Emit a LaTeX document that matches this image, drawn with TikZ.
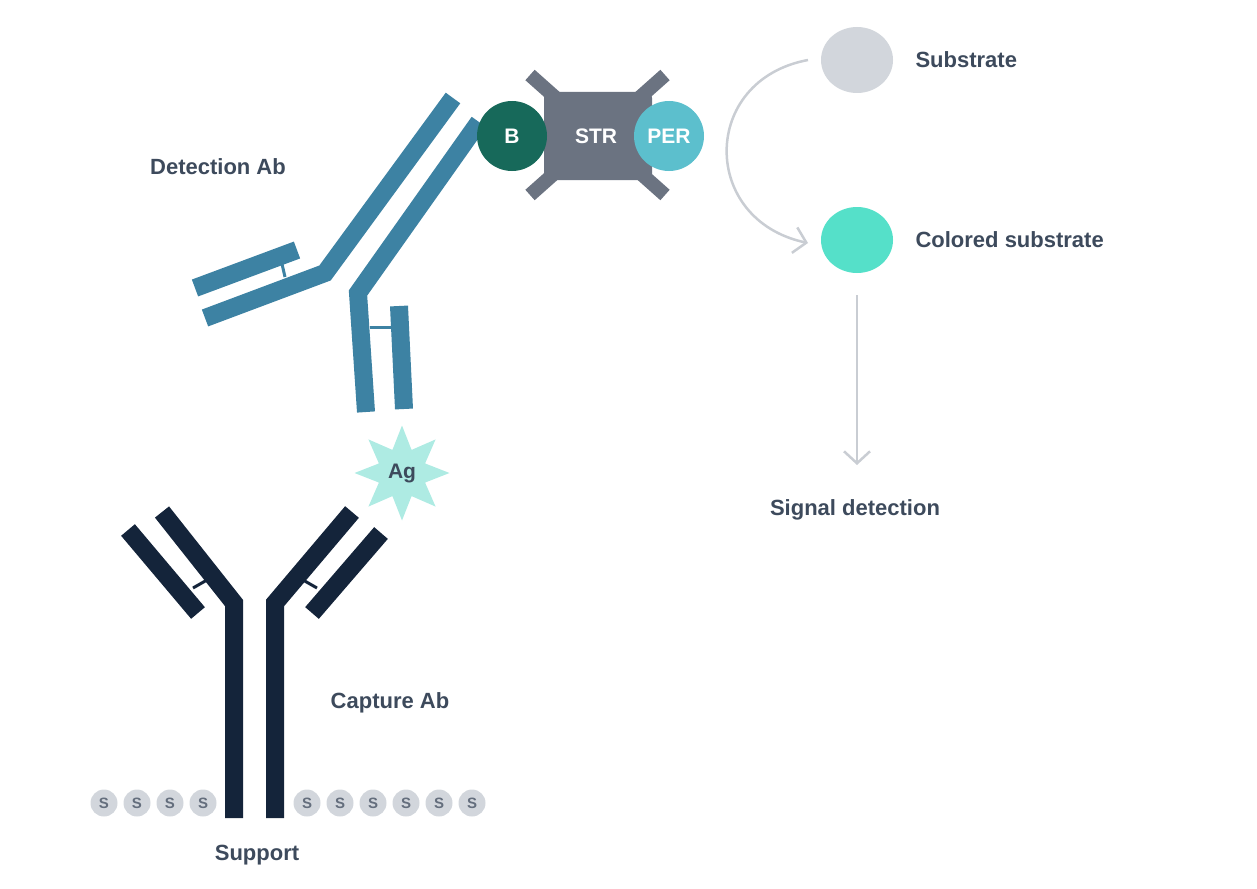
\documentclass[tikz,border=0pt]{standalone}
\usepackage{fontspec}
\setmainfont{Liberation Sans}
\usetikzlibrary{shapes.geometric,arrows.meta}
\definecolor{navy}{HTML}{14243A}
\definecolor{dab}{HTML}{3D82A3}
\definecolor{txt}{HTML}{3D4A5C}
\definecolor{sgray}{HTML}{D2D6DC}
\definecolor{strg}{HTML}{6B7381}
\definecolor{bgreen}{HTML}{17695A}
\definecolor{perc}{HTML}{5CBFCD}
\definecolor{agc}{HTML}{AEEBE3}
\definecolor{colc}{HTML}{55E0C9}
\definecolor{arr}{HTML}{C9CDD3}
\tikzset{
  lbl/.style={font=\fontsize{22}{26}\selectfont\bfseries, text=txt},
  heavy/.style={line width=18pt, line join=miter, line cap=butt},
  link/.style={line width=3pt},
  sdot/.style={circle, fill=sgray, minimum size=27pt, inner sep=0pt, font=\fontsize{15}{15}\selectfont\bfseries, text=txt!80},
  ball/.style={circle, minimum size=70pt, inner sep=0pt, font=\fontsize{21}{21}\selectfont\bfseries, text=white},
  garrow/.style={draw=arr, line width=2.5pt, -{Straight Barb[length=12pt,width=26pt,line width=2.5pt]}}
}
\begin{document}
\begin{tikzpicture}[x=1pt,y=-1pt]
\useasboundingbox (0,0) rectangle (1257,888);
% capture antibody
\begin{scope}[draw=navy]
\draw[heavy] (162,512) -- (234,603) -- (234,818);
\draw[heavy] (128,530) -- (198,613);
\draw[link] (193,588) -- (207,580);
\draw[heavy] (352,512) -- (275,603) -- (275,818);
\draw[heavy] (381,533) -- (312,613);
\draw[link] (303,580) -- (317,588);
\end{scope}
% support
\foreach \i/\x in {1/104,2/137,3/170,4/203,5/307,6/340,7/373,8/406,9/439,10/472}
  \node[sdot] (s\i) at (\x,803) {S};
\node[lbl] (support) at (257,855) {Support};
\node[lbl] (capture) at (390,703) {Capture Ab};
% antigen
\node[star, star points=8, star point ratio=1.9, fill=agc, minimum size=95pt, inner sep=0pt] (ag) at (402,473) {};
\node[font=\fontsize{21}{21}\selectfont\bfseries, text=txt] at (ag) {Ag};
% detection antibody
\begin{scope}[draw=dab]
\draw[heavy] (453,98) -- (325,273) -- (205,318);
\draw[heavy] (479,122) -- (358,293) -- (366,412);
\draw[heavy] (297,250) -- (195,288);
\draw[heavy] (399,306) -- (404,409);
\draw[link] (282,264) -- (285,277);
\draw[link] (370,327) -- (392,327);
\end{scope}
\node[lbl] (detection) at (218,167) {Detection Ab};
% streptavidin complex
\draw[strg, line width=14pt] (530,75) -- (665,195);
\draw[strg, line width=14pt] (665,75) -- (530,195);
\node[fill=strg, rounded corners=6pt, minimum width=108pt, minimum height=88pt] (str) at (598,136) {};
\node[ball, fill=bgreen] (b) at (512,136) {B};
\node[font=\fontsize{21}{21}\selectfont\bfseries, text=white] at (596,136) {STR};
\node[ball, fill=perc] (per) at (669,136) {PER};
% substrates
\node[ellipse, fill=sgray, minimum width=72pt, minimum height=66pt] (sub) at (857,60) {};
\node[ellipse, fill=colc, minimum width=72pt, minimum height=66pt] (col) at (857,240) {};
\node[lbl, anchor=west] at (912,60) {Substrate};
\node[lbl, anchor=west] at (912,240) {Colored substrate};
\node[lbl] (signal) at (855,510) {Signal detection};
\draw[garrow] (808,60) .. controls (700,80) and (700,220) .. (808,243);
\coordinate (dtop) at (857,295);
\coordinate (dbot) at (857,465);
\draw[garrow] (dtop) -- (dbot);
\end{tikzpicture}
\end{document}
